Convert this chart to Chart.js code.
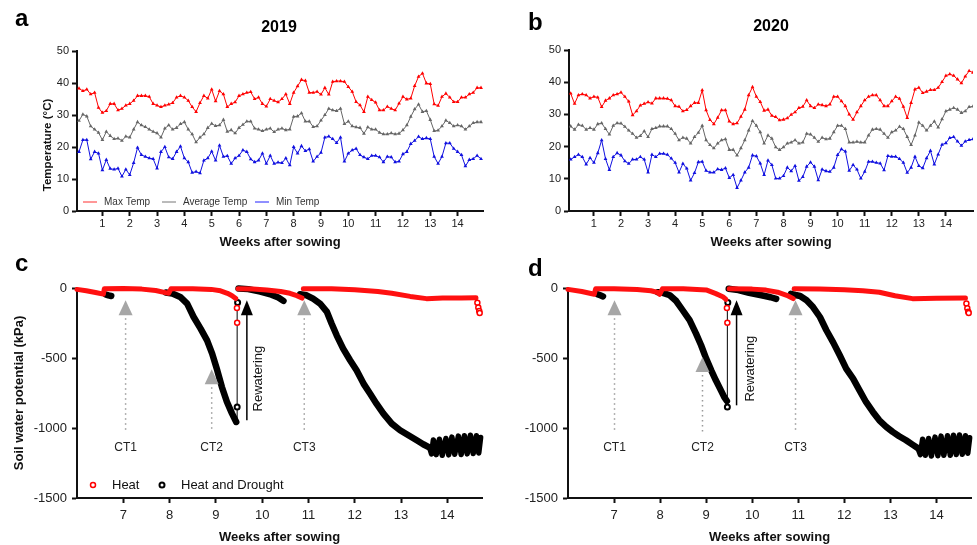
<!DOCTYPE html>
<html>
<head>
<meta charset="utf-8">
<script src="https://cdn.jsdelivr.net/npm/chart.js@4.4.0/dist/chart.umd.min.js"></script>
<style>
  body { margin: 0; background: #fff; }
  #wrap { position: relative; width: 977px; height: 545px; overflow: hidden; font-family: 'Liberation Sans', Arial, sans-serif; }
  canvas { position: absolute; }
  .lbl { position: absolute; line-height: 1; white-space: nowrap; color: #000; font-weight: bold; }
</style>
</head>
<body>
<div id="wrap">
  <canvas id="chartA" width="490" height="255" style="left:0;top:0"></canvas>
  <canvas id="chartB" width="487" height="255" style="left:490px;top:0"></canvas>
  <canvas id="chartC" width="490" height="290" style="left:0;top:255px"></canvas>
  <canvas id="chartD" width="487" height="290" style="left:490px;top:255px"></canvas>
  <div class="lbl" style="left:15px;top:6px;font-size:24px">a</div>
  <div class="lbl" style="left:528px;top:10px;font-size:24px">b</div>
  <div class="lbl" style="left:15px;top:251px;font-size:24px">c</div>
  <div class="lbl" style="left:528px;top:256px;font-size:24px">d</div>
  <div class="lbl" style="left:229px;width:100px;text-align:center;top:19px;font-size:16px">2019</div>
  <div class="lbl" style="left:721px;width:100px;text-align:center;top:18px;font-size:16px">2020</div>
  <div class="lbl" style="left:48px;top:145px;font-size:11.5px;color:#111;transform:translate(-50%,-50%) rotate(-90deg)">Temperature (°C)</div>
</div>
<script>
Chart.defaults.font.family = "'Liberation Sans', Arial, sans-serif";
Chart.defaults.color = '#222';

// daily temperatures, one value per day after sowing
const seriesNames = ['Max Temp', 'Average Temp', 'Min Temp'];
const tempWeekTicks = [1, 2, 3, 4, 5, 6, 7, 8, 9, 10, 11, 12, 13, 14];

const maxTemp2019 = [38.3, 37.5, 38, 36.5, 37, 32.3, 30.7,
  31.3, 33.5, 33.5, 31.5, 32, 33, 33.5,
  34.5, 36, 36, 36, 35.7, 33.5, 33,
  32.5, 33, 33.3, 33.8, 35.5, 36, 35.5,
  34.5, 32.5, 31, 33.8, 36, 35.2, 38,
  34.3, 37.5, 36.5, 32.5, 33.5, 34, 36,
  36.5, 37, 37.2, 35, 35.5, 33.5, 32.7,
  35, 34.5, 34, 35, 36.5, 33.5, 37,
  39, 41, 40.7, 37, 37, 37.3, 36.4,
  38.5, 36.4, 40.4, 40.6, 40.6, 40.4, 38.8,
  37.3, 34.1, 33.1, 31, 35.7, 34.7, 33.9,
  31.5, 31.5, 32.6, 32, 31.5, 33.6, 35.7,
  34.9, 35.2, 39.1, 42, 43, 39.9, 39.7,
  33.4, 32.9, 35.7, 36.7, 35.5, 34.1, 34.1,
  35.5, 35.5, 36.5, 37, 38.5, 38.5];
const avgTemp2019 = [28.2, 30.2, 29.6, 26.5, 25.5, 24.5, 22.2,
  24.8, 23.5, 22.5, 22.7, 22, 23.3, 23,
  25.5, 27.8, 26.8, 26.3, 25.5, 24.8, 24.3,
  23, 25.8, 26.8, 25.5, 26, 27.2, 27.8,
  25.5, 24, 21.5, 23, 24, 26, 27.3,
  26.6, 26.8, 28.5, 24.8, 25.3, 24.3, 26,
  27, 28, 28, 25.8, 25.5, 25, 25.5,
  25.8, 24.7, 25.5, 25.8, 25.3, 25.5, 29.5,
  29.6, 30.6, 28, 28, 26.3, 26.5, 28.3,
  30, 32, 31.5, 31.3, 32, 27.2, 28,
  26.5, 26.2, 26, 24.2, 26.2, 25.5, 25.5,
  24.5, 24, 24, 24.3, 24, 24.2, 25.3,
  26.8, 29.5, 31.8, 33.3, 31, 31.3, 28.5,
  25, 25.2, 26.5, 28.3, 27.5, 26.5, 26.8,
  26.5, 25.5, 26.5, 27.5, 27.8, 27.8];
const minTemp2019 = [18.5, 22.2, 22.2, 16.2, 18.5, 18, 12.8,
  16, 13.2, 13, 13.3, 10.8, 13, 11.3,
  15, 19.8, 17.5, 17, 16.5, 16.3, 13.3,
  18.5, 20, 16.8, 16.3, 18.5, 20.2, 16.5,
  15.3, 12, 12.3, 11.8, 15.8, 16.5, 18.6,
  15.8, 20.5, 17, 17.2, 14.8, 16.5, 17.3,
  19, 18.5, 16.2, 15.3, 15.8, 18, 14.8,
  17.3, 14.8, 15.2, 15, 16.5, 14.3, 20,
  18, 20.3, 18.8, 19.3, 15.5, 17, 18.2,
  23, 23.3, 22.5, 21.3, 23, 15.5, 18,
  19, 19.5, 17.5, 16.8, 16.3, 17.3, 17.3,
  16.8, 15.3, 17, 16.8, 15.3, 15.5, 17.8,
  18.5, 21, 22, 23.2, 22.5, 22.8, 22.5,
  17, 14.8, 17, 21.2, 21.2, 19.5, 18.5,
  17.5, 14, 16, 16.3, 17.3, 16.3];

const maxTemp2020 = [36.5, 33.3, 36, 36.3, 36, 35, 35.5,
  35.3, 32.3, 34.3, 35, 36, 36.3, 36.8,
  35.5, 34, 29.8, 31, 32.8, 33.3, 33.8,
  33.4, 35, 35, 35, 34.9, 34.4, 32.6,
  32.4, 31, 31.4, 32.6, 33.6, 33.6, 37.5,
  31.3, 28.3, 27, 29, 31.3, 31.3, 27.8,
  27, 27.3, 29.3, 31.5, 36, 38.5, 35.5,
  33.9, 31.2, 31.5, 29.6, 29.2, 28.2, 28.4,
  28.8, 29.9, 30.7, 32, 32.4, 34.4, 32.6,
  32, 33.1, 32.9, 32.6, 33.1, 35.5, 35.5,
  34.1, 32.6, 30, 28.4, 30.7, 32.6, 34.4,
  35.5, 36, 36, 34.4, 32.6, 32.6, 34.1,
  35.5, 34.9, 32.4, 28.9, 33.6, 37.8, 38.3,
  36.7, 37.1, 37.6, 37.6, 38.3, 40.1, 42,
  42.5, 42, 40.9, 39.7, 41.8, 43.5, 43];
const avgTemp2020 = [26.3, 25.3, 26.8, 26.5, 25.3, 25.8, 25.3,
  27, 27.3, 25.5, 23.8, 26.5, 27.3, 27.2,
  26.2, 25, 24, 22.8, 23.3, 24.8, 23,
  25.5, 25.8, 26.3, 26.3, 26.3, 25.5, 24,
  22, 22.8, 22.5, 21, 23, 24.3, 26.5,
  22, 20.5, 19.5, 21, 22, 22.3, 19,
  19, 17.3, 19.5, 22, 25, 28, 26.5,
  24.5, 21, 23.5, 22.5, 19.8, 19, 19.8,
  21, 21.3, 22, 21, 21.3, 24, 23.8,
  22.8, 21.5, 22.8, 22.3, 22.5, 24.5, 26.5,
  26.5, 25.5, 21.3, 21.3, 21.5, 21.3, 21.3,
  23.5, 25.3, 25.5, 25.3, 24, 22.8, 24.5,
  25, 26.2, 25.5, 23, 20.5, 23.5, 27.5,
  26.5, 25, 26.5, 27.8, 26, 28.5, 31,
  31.5, 32, 31.5, 30.5, 31, 32.3, 32.5];
const minTemp2020 = [16, 16.8, 17.5, 16.8, 14.5, 16.5, 15,
  18, 22, 16.2, 12.8, 16.8, 18, 17.3,
  15.5, 14.7, 16, 16, 16.8, 16, 12,
  17.5, 16.8, 17.8, 17.8, 17.5, 16.3, 15,
  12, 14.7, 13.2, 9.5, 11.8, 15.2, 15.3,
  12.5, 12, 12, 13, 12.8, 13.3, 10.3,
  11.2, 7.2, 9.5, 12, 13.5, 17.3, 17,
  14.8, 11.2, 15.7, 14.3, 10.1, 10.1, 10.9,
  13.5, 12.4, 14, 9.4, 10.6, 13.8, 15.1,
  13.8, 9.6, 12.9, 12.4, 12.2, 13.5, 17.4,
  19.2, 18.5, 12.5, 14.3, 12.9, 10.1, 12.2,
  15.3, 15.3, 15, 14.8, 12.7, 17.1, 16.9,
  16.9, 16.2, 15, 11.9, 13.5, 16.9, 14,
  13.3, 16.4, 18.7, 14.5, 17.6, 20.6, 21.1,
  22.7, 23, 21.6, 20.3, 21.6, 22.1, 22.3];

// soil water potential, [week, kPa]
const soilWeekTicks = [7, 8, 9, 10, 11, 12, 13, 14];

const heatC1 = [[6.0, -10], [6.2, -20], [6.4, -32], [6.57, -44], [6.59, -6], [7.0, -4], [7.4, -8], [7.7, -18], [7.98, -38], [8.03, -6], [8.5, -6], [8.9, -10], [9.1, -20], [9.25, -38], [9.35, -55], [9.43, -75]];
const heatC2 = [[9.48, -6], [9.8, -8], [10.1, -14], [10.4, -25], [10.6, -38], [10.75, -55], [10.86, -72]];
const heatC3 = [[10.89, -5], [11.5, -6], [12.0, -12], [12.5, -25], [12.8, -38], [13.2, -60], [13.55, -76], [13.9, -72], [14.3, -72], [14.62, -70]];
const heatDotsC = [[9.455, -143], [9.46, -248], [14.65, -105], [14.67, -140], [14.69, -165], [14.7, -178]];
const droughtC1 = [[6.62, -46], [6.68, -53], [6.74, -57]];
const droughtC2 = [[7.92, -32], [8.06, -40], [8.23, -64], [8.38, -111], [8.52, -207], [8.67, -290], [8.81, -374], [8.92, -469], [9.03, -588], [9.13, -707], [9.24, -814], [9.35, -897], [9.44, -957]];
const droughtC3 = [[9.49, -4], [9.7, -8], [9.96, -26], [10.2, -48], [10.35, -68], [10.46, -92]];
const droughtC4 = [[10.82, -45], [10.96, -52], [11.1, -76], [11.25, -111], [11.4, -171], [11.5, -254], [11.61, -338], [11.75, -433], [11.9, -516], [12.04, -588], [12.19, -683], [12.33, -754], [12.47, -826], [12.62, -897], [12.8, -969], [12.98, -1016], [13.16, -1052], [13.34, -1088], [13.48, -1116], [13.62, -1140]];
const droughtC5 = [[13.62, -1140], [13.66, -1185], [13.70, -1085], [13.76, -1190], [13.83, -1080], [13.89, -1195], [13.97, -1075], [14.03, -1192], [14.10, -1065], [14.16, -1188], [14.24, -1058], [14.30, -1190], [14.37, -1055], [14.43, -1185], [14.50, -1052], [14.56, -1182], [14.63, -1055], [14.68, -1178], [14.72, -1068]];
const droughtDotsC = [[9.46, -850], [9.47, -104]];
const rewaterDropC = [[9.46, -957], [9.46, -104]];

const heatD1 = [[6.0, -10], [6.3, -25], [6.57, -45], [6.6, -6], [7.0, -5], [7.5, -10], [7.8, -20], [7.95, -32], [7.99, -45], [8.05, -6], [8.5, -6], [9.0, -14], [9.21, -40], [9.36, -62], [9.43, -82]];
const heatD2 = [[9.5, -5], [10.0, -8], [10.3, -15], [10.55, -30], [10.75, -52], [10.89, -76]];
const heatD3 = [[10.91, -5], [11.47, -8], [12.0, -12], [12.4, -20], [12.76, -30], [13.1, -55], [13.48, -76], [14.0, -74], [14.63, -71]];
const heatDotsD = [[9.45, -143], [9.46, -248], [14.65, -110], [14.67, -145], [14.69, -170], [14.7, -178]];
const droughtD1 = [[6.64, -44], [6.7, -52], [6.76, -60]];
const droughtD2 = [[7.95, -30], [8.06, -35], [8.21, -52], [8.35, -93], [8.49, -159], [8.64, -230], [8.78, -326], [8.89, -409], [9.0, -504], [9.11, -588], [9.21, -659], [9.32, -731], [9.39, -778], [9.45, -807]];
const droughtD3 = [[9.49, -5], [9.7, -15], [9.93, -34], [10.2, -52], [10.4, -66], [10.52, -78]];
const droughtD4 = [[10.84, -42], [10.94, -50], [11.04, -57], [11.18, -88], [11.32, -136], [11.47, -207], [11.61, -302], [11.76, -390], [11.9, -481], [12.04, -576], [12.19, -647], [12.33, -731], [12.47, -814], [12.62, -885], [12.76, -945], [12.91, -992], [13.05, -1028], [13.19, -1059], [13.34, -1088], [13.48, -1119], [13.6, -1145]];
const droughtD5 = [[13.6, -1145], [13.65, -1190], [13.70, -1080], [13.76, -1195], [13.83, -1075], [13.89, -1200], [13.97, -1065], [14.03, -1198], [14.10, -1058], [14.16, -1195], [14.24, -1055], [14.30, -1195], [14.37, -1052], [14.43, -1190], [14.50, -1050], [14.56, -1188], [14.63, -1055], [14.68, -1180], [14.72, -1070]];
const droughtDotsD = [[9.46, -850], [9.47, -104]];
const rewaterDropD = [[9.46, -850], [9.46, -104]];

// harvest markers and rewatering arrow
const ctLabels = ['CT1', 'CT2', 'CT3'];
const ctWeeksC = [7.05, 8.91, 10.91];
const ctTipsC = [-88, -580, -88];
const ctWeeksD = [7.01, 8.92, 10.94];
const ctTipsD = [-88, -493, -88];
const ctLineEnd = -1030;
const ctLabelKpa = -1143;
const rewaterC = { week: 9.67, tip: -88, tail: -945, textWeek: 9.92, textKpa: -647 };
const rewaterD = { week: 9.66, tip: -88, tail: -838, textWeek: 9.95, textKpa: -576 };

const FONT = "'Liberation Sans', Arial, sans-serif";

function lineLegend(items, y) {
  return {
    id: 'lineLegend',
    afterDraw(chart) {
      const ctx = chart.ctx;
      ctx.save();
      ctx.font = '10px ' + FONT;
      ctx.textBaseline = 'middle';
      items.forEach(it => {
        ctx.strokeStyle = it.color;
        ctx.lineWidth = 1;
        ctx.beginPath();
        ctx.moveTo(it.x, y);
        ctx.lineTo(it.x + 14, y);
        ctx.stroke();
        ctx.fillStyle = '#333';
        ctx.fillText(it.text, it.x + 21, y);
      });
      ctx.restore();
    }
  };
}

function dotLegend(items, y) {
  return {
    id: 'dotLegend',
    afterDraw(chart) {
      const ctx = chart.ctx;
      ctx.save();
      ctx.font = '13px ' + FONT;
      ctx.textBaseline = 'middle';
      items.forEach(it => {
        ctx.strokeStyle = it.color;
        ctx.lineWidth = it.lw;
        ctx.fillStyle = '#fff';
        ctx.beginPath();
        ctx.arc(it.x, y, 2.5, 0, Math.PI * 2);
        ctx.fill();
        ctx.stroke();
        ctx.fillStyle = '#111';
        ctx.fillText(it.text, it.tx, y);
      });
      ctx.restore();
    }
  };
}

function marks(ctWeeks, ctTips, rw) {
  return {
    id: 'marks',
    afterDatasetsDraw(chart) {
      const { ctx, scales: { x, y } } = chart;
      ctx.save();
      ctWeeks.forEach((w, i) => {
        const px = x.getPixelForValue(w);
        const tip = y.getPixelForValue(ctTips[i]);
        const base = tip + 15;
        ctx.strokeStyle = '#9a9a9a';
        ctx.lineWidth = 1.5;
        ctx.setLineDash([1.5, 3.5]);
        ctx.beginPath();
        ctx.moveTo(px, base + 3);
        ctx.lineTo(px, y.getPixelForValue(ctLineEnd));
        ctx.stroke();
        ctx.setLineDash([]);
        ctx.fillStyle = '#a6a6a6';
        ctx.beginPath();
        ctx.moveTo(px, tip);
        ctx.lineTo(px - 7, base);
        ctx.lineTo(px + 7, base);
        ctx.closePath();
        ctx.fill();
        ctx.fillStyle = '#222';
        ctx.font = '12px ' + FONT;
        ctx.textAlign = 'center';
        ctx.textBaseline = 'middle';
        ctx.fillText(ctLabels[i], px, y.getPixelForValue(ctLabelKpa));
      });
      // rewatering arrow
      const ax = x.getPixelForValue(rw.week);
      const tip = y.getPixelForValue(rw.tip);
      ctx.strokeStyle = '#000';
      ctx.lineWidth = 1.5;
      ctx.beginPath();
      ctx.moveTo(ax, y.getPixelForValue(rw.tail));
      ctx.lineTo(ax, tip + 14);
      ctx.stroke();
      ctx.fillStyle = '#000';
      ctx.beginPath();
      ctx.moveTo(ax, tip);
      ctx.lineTo(ax - 6, tip + 15);
      ctx.lineTo(ax + 6, tip + 15);
      ctx.closePath();
      ctx.fill();
      ctx.translate(x.getPixelForValue(rw.textWeek), y.getPixelForValue(rw.textKpa));
      ctx.rotate(-Math.PI / 2);
      ctx.font = '13px ' + FONT;
      ctx.textAlign = 'center';
      ctx.textBaseline = 'middle';
      ctx.fillStyle = '#111';
      ctx.fillText('Rewatering', 0, 0);
      ctx.restore();
    }
  };
}

const axisGrid = { drawOnChartArea: false, tickLength: 5, tickWidth: 2, tickColor: '#111' };
const axisBorder = { color: '#111', width: 2 };

function tempChart(id, maxT, avgT, minT, opts) {
  const pts = arr => arr.map((v, i) => ({ x: (i + 1) / 7, y: v }));
  const ds = (label, arr, color) => ({
    label, data: pts(arr), borderColor: color, backgroundColor: color,
    borderWidth: 1, pointStyle: 'triangle', pointRadius: 2.2, pointBorderWidth: 0, tension: 0
  });
  return new Chart(document.getElementById(id), {
    type: 'line',
    data: {
      datasets: [
        ds(seriesNames[0], maxT, '#ff0000'),
        ds(seriesNames[1], avgT, '#666666'),
        ds(seriesNames[2], minT, '#1010e0')
      ]
    },
    options: {
      responsive: false, animation: false, events: [],
      layout: { padding: opts.padding },
      plugins: { legend: { display: false }, tooltip: { enabled: false } },
      scales: {
        x: {
          type: 'linear', min: opts.xMin, max: opts.xMax,
          afterBuildTicks: s => { s.ticks = tempWeekTicks.map(v => ({ value: v })); },
          afterFit: s => { s.height = 44; },
          grid: axisGrid, border: axisBorder,
          ticks: { font: { size: 11 }, padding: 1, maxRotation: 0, autoSkip: false },
          title: { display: true, text: 'Weeks after sowing', color: '#111', font: { size: 13, weight: 'bold' }, padding: { top: 0, bottom: 5 } }
        },
        y: {
          min: 0, max: 50,
          afterFit: s => { s.width = opts.yWidth; },
          grid: axisGrid, border: axisBorder,
          ticks: { stepSize: 10, font: { size: 11 }, padding: 3 },
          title: { display: false }
        }
      }
    },
    plugins: opts.legend ? [opts.legend] : []
  });
}

function soilChart(id, heat, heatDots, drought, cycles, droughtDots, dropLine, opts) {
  const toXY = arr => arr.map(([x, y]) => ({ x, y }));
  const band = (arr, color, w) => ({
    data: toXY(arr), showLine: true, borderColor: color, borderWidth: w, pointRadius: 0,
    tension: 0, clip: false, borderJoinStyle: 'round', borderCapStyle: 'round'
  });
  const dots = (arr, color, w) => ({
    data: toXY(arr), showLine: false, pointRadius: 2.5, pointBorderWidth: w,
    pointBorderColor: color, pointBackgroundColor: '#fff', clip: false
  });
  const datasets = [
    dots(heatDots, '#ff0000', 1.5),
    ...heat.map(a => band(a, '#ff1010', 5)),
    dots(droughtDots, '#000', 2),
    { data: toXY(dropLine), showLine: true, borderColor: '#000', borderWidth: 1, pointRadius: 0, clip: false },
    ...drought.map(a => band(a, '#000', 6.5)),
    band(cycles, '#000', 5.5)
  ];
  const plugins = [opts.marks];
  if (opts.legend) plugins.push(opts.legend);
  return new Chart(document.getElementById(id), {
    type: 'scatter',
    data: { datasets },
    options: {
      responsive: false, animation: false, events: [],
      layout: { padding: opts.padding },
      plugins: { legend: { display: false }, tooltip: { enabled: false } },
      scales: {
        x: {
          type: 'linear', min: 6, max: 14.75,
          afterBuildTicks: s => { s.ticks = soilWeekTicks.map(v => ({ value: v })); },
          afterFit: s => { s.height = 47; },
          grid: axisGrid, border: axisBorder,
          ticks: { font: { size: 13 }, padding: 5, maxRotation: 0, autoSkip: false },
          title: { display: true, text: 'Weeks after sowing', color: '#111', font: { size: 13, weight: 'bold' }, padding: { top: 0, bottom: 0 } }
        },
        y: {
          min: -1500, max: 0,
          afterFit: s => { s.width = opts.yWidth; },
          grid: axisGrid, border: axisBorder,
          ticks: { stepSize: 500, font: { size: 13 }, padding: 5, callback: v => String(v) },
          title: opts.yTitle
            ? { display: true, text: opts.yTitle, color: '#111', font: { size: 13, weight: 'bold' }, padding: { top: 12, bottom: 0 } }
            : { display: false }
        }
      }
    },
    plugins
  });
}

tempChart('chartA', maxTemp2019, avgTemp2019, minTemp2019, {
  xMin: 0.07, xMax: 14.93, yWidth: 77,
  padding: { top: 51, left: 0, right: 7, bottom: 0 },
  legend: lineLegend([
    { x: 83, color: '#ff3030', text: seriesNames[0] },
    { x: 162, color: '#777', text: seriesNames[1] },
    { x: 255, color: '#2020ff', text: seriesNames[2] }
  ], 202)
});

tempChart('chartB', maxTemp2020, avgTemp2020, minTemp2020, {
  xMin: 0.08, xMax: 15.0, yWidth: 79,
  padding: { top: 50, left: 0, right: 4, bottom: 0 }
});

soilChart('chartC', [heatC1, heatC2, heatC3], heatDotsC, [droughtC1, droughtC2, droughtC3, droughtC4], droughtC5, droughtDotsC, rewaterDropC, {
  yWidth: 77, yTitle: 'Soil water potential (kPa)',
  padding: { top: 33, left: 0, right: 8, bottom: 0 },
  marks: marks(ctWeeksC, ctTipsC, rewaterC),
  legend: dotLegend([
    { x: 93, tx: 112, color: '#ff0000', lw: 1.5, text: 'Heat' },
    { x: 162, tx: 181, color: '#000', lw: 2, text: 'Heat and Drought' }
  ], 230)
});

soilChart('chartD', [heatD1, heatD2, heatD3], heatDotsD, [droughtD1, droughtD2, droughtD3, droughtD4], droughtD5, droughtDotsD, rewaterDropD, {
  yWidth: 78,
  padding: { top: 33, left: 0, right: 4, bottom: 0 },
  marks: marks(ctWeeksD, ctTipsD, rewaterD)
});
</script>
</body>
</html>
